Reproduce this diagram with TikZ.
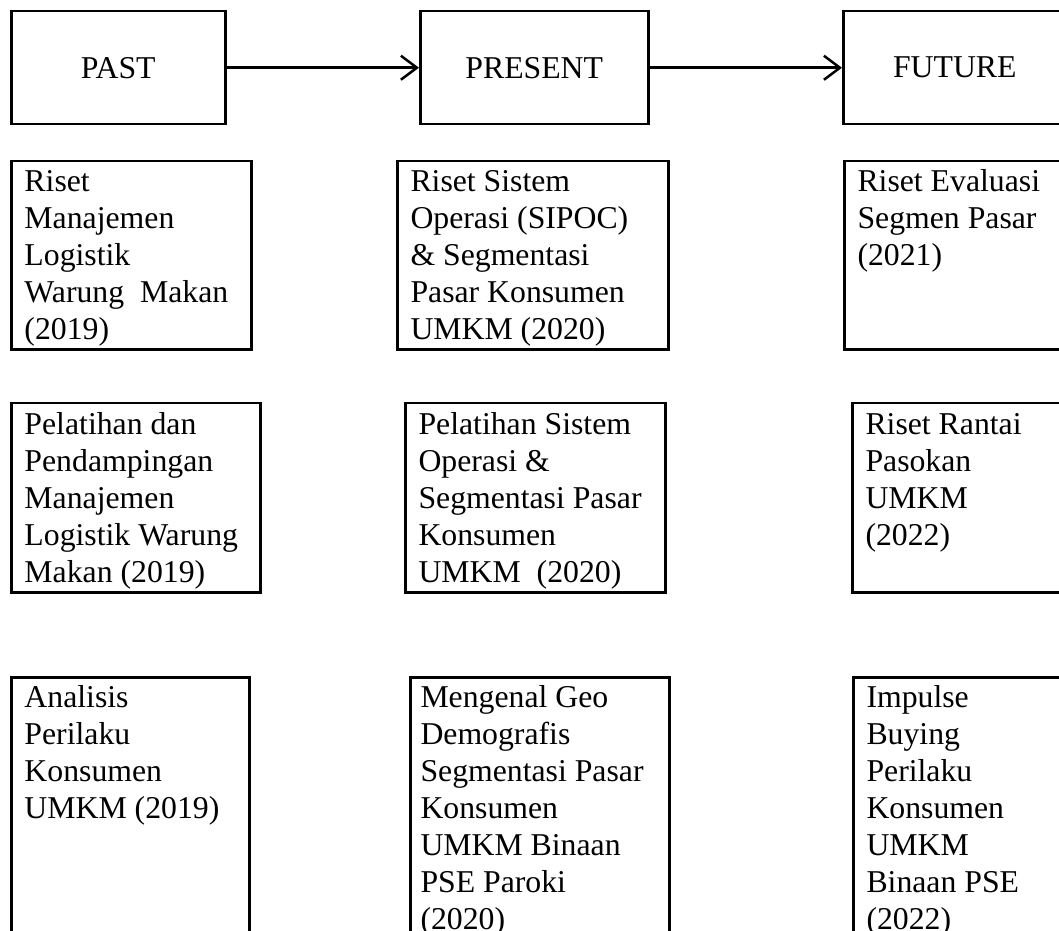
\documentclass[tikz,border=0pt]{standalone}
\usepackage{fontspec}
\setmainfont{Liberation Serif}
\usetikzlibrary{arrows.meta}
\begin{document}
\begin{tikzpicture}[x=0.4pt,y=-0.4pt,
  box/.style={draw,line width=1pt,inner sep=0pt,anchor=north west,
    font=\fontsize{12.7}{14.8}\selectfont},
  body/.style={font=\fontsize{12.7}{14.8}\selectfont,inner sep=0pt,align=left,anchor=north west},
  flow/.style={line width=1pt,-{Straight Barb[length=6.4pt,width=9.6pt]}}]
\useasboundingbox (0,0) rectangle (1059,931);
\clip (0,0) rectangle (1059,931);

% top row
\node[box,minimum width=85.6pt,minimum height=45.2pt] (past) at (10,10) {PAST};
\node[box,minimum width=91.2pt,minimum height=45.2pt] (present) at (419,10) {PRESENT};
\node[box,minimum width=89.2pt,minimum height=45.2pt] (future) at (842,10) {FUTURE};
\draw[flow] (past) -- (present);
\draw[flow] (present) -- (future);

% row 2
\node[box,minimum width=96pt,minimum height=75.2pt] (a1) at (10,160) {};
\node[box,minimum width=108.4pt,minimum height=75.2pt] (b1) at (396,160) {};
\node[box,minimum width=88.8pt,minimum height=75.2pt] (c1) at (843,160) {};
\node[body] (ta1) at (24,165) {\strut Riset\\Manajemen\\Logistik\\Warung\ \ Makan\\(2019)};
\node[body] (tb1) at (410,165) {\strut Riset Sistem\\Operasi (SIPOC)\\\& Segmentasi\\Pasar Konsumen\\UMKM (2020)};
\node[body] (tc1) at (857,165) {\strut Riset Evaluasi\\Segmen Pasar\\(2021)};

% row 3
\node[box,minimum width=99.6pt,minimum height=75.6pt] (a2) at (10,402) {};
\node[box,minimum width=104pt,minimum height=75.6pt] (b2) at (404,402) {};
\node[box,minimum width=85.6pt,minimum height=75.6pt] (c2) at (851,402) {};
\node[body] (ta2) at (24,408) {\strut Pelatihan dan\\Pendampingan\\Manajemen\\Logistik Warung\\Makan (2019)};
\node[body] (tb2) at (418,408) {\strut Pelatihan Sistem\\Operasi \&\\Segmentasi Pasar\\Konsumen\\UMKM\ \ (2020)};
\node[body] (tc2) at (865,408) {\strut Riset Rantai\\Pasokan\\UMKM\\(2022)};

% row 4
\node[box,minimum width=95.2pt,minimum height=105.6pt] (a3) at (10,676) {};
\node[box,minimum width=103.6pt,minimum height=105.6pt] (b3) at (409,676) {};
\node[box,minimum width=85.2pt,minimum height=105.6pt] (c3) at (852,676) {};
\node[body] (ta3) at (24,681) {\strut Analisis\\Perilaku\\Konsumen\\UMKM (2019)};
\node[body] (tb3) at (420,681) {\strut Mengenal Geo\\Demografis\\Segmentasi Pasar\\Konsumen\\UMKM Binaan\\PSE Paroki\\(2020)};
\node[body] (tc3) at (866,681) {\strut Impulse\\Buying\\Perilaku\\Konsumen\\UMKM\\Binaan PSE\\(2022)};
\end{tikzpicture}
\end{document}
